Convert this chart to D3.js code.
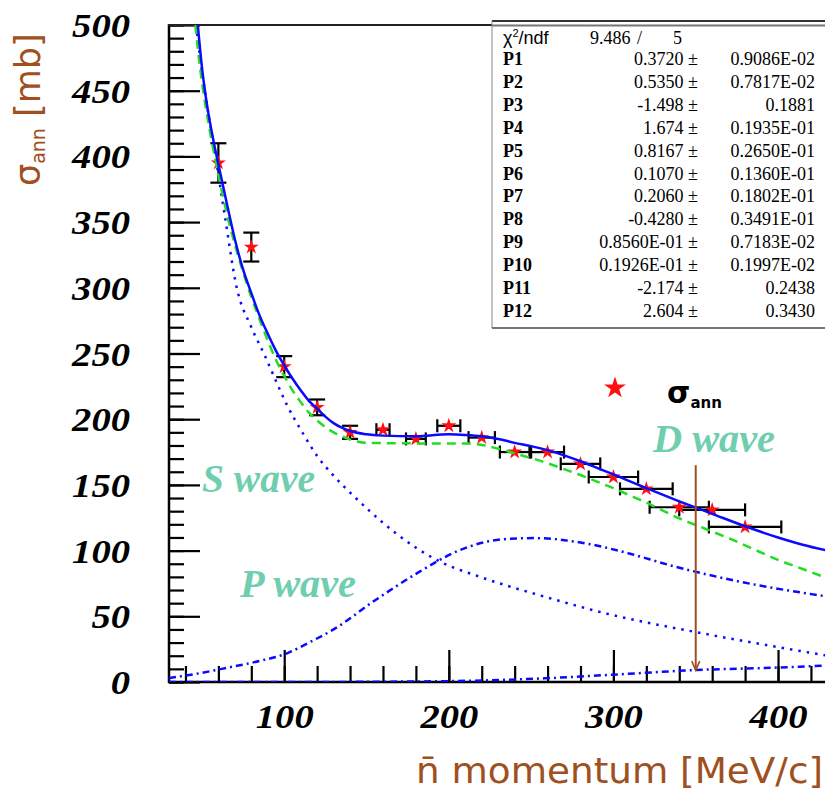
<!DOCTYPE html>
<html><head><meta charset="utf-8">
<script src="https://cdn.jsdelivr.net/npm/d3@7"></script>
<style>body{margin:0;background:#fff}svg{display:block}</style>
</head><body>
<svg id="c" width="825" height="791"></svg>
<script>
// ---- data ----
const momentum = [60,80,100,120,140,160,180,200,220,240,260,280,300,320,340,360,380];
const sigmaAnn = [395,331,240,209,190,192,185,195,186,175,175,166,156,147,133,131,118];
const sigmaErr = [15,11,8,6,5,0,0,0,0,0,0,0,0,0,0,0,0];
const momErr   = [0,0,0,0,0,4,6,7,8,9,10,12,15,16,18,20,22];

const totalFitX = [47.5,50,53,57,60,65,70,75,80,85,90,95,100,105,110,115,120,125,130,135,140,150,160,180,200,210,220,230,240,250,260,270,280,290,300,320,340,360,380,400,415,430];
const totalFitY = [500,468,440,412,394,365,337,314,296,279,265,252,241,231,222,214,208,202,197,193.5,191,188.5,187.5,187,188.5,188,187,185,182,179.5,176.5,172.5,168,163,158,147.5,137.5,128,118.5,110,104.5,100];

const altFitX = [46,49,52,55,58,62,66,70,75,80,85,90,95,100,105,110,115,120,125,130,135,140,150,180,210,220,230,240,250,260,270,280,290,300,310,320,330,340,350,360,370,380,400,415,430];
const altFitY = [500,466,440,418,398,374,352,333,312,293,276,260,245,233,222,213,205,199,194,190,187,184.5,182,181.6,181.6,180.4,177.5,174,170.5,166.5,162,157.5,152.5,147.5,142,136.5,130.5,124.5,119.5,114.5,109.5,104,93,86,79];

const sWaveX = [46.5,50,54,58,64,71,80,88,95,102,111,120,130,141,152,168,194,219,258,296,350,398,430];
const sWaveY = [500,465,432,402,354,301,270,249,229,210,190,172,157,143,130,113,92,80,65,52,38,27,20];

const pWaveX = [30,50,66,85,102,115,130,155,181,206,232,252,283,309,334,372,430];
const pWaveY = [3,7,11,16,22,30,40,62,83,100,108.5,109.5,105.5,98,89,77.6,65];

const dWaveX = [30,100,190,230,258,296,350,400,430];
const dWaveY = [0,0,0.5,1.5,2.8,5.3,9.1,11,12.5];

const yMajor = [0,50,100,150,200,250,300,350,400,450,500];
const xMajor = [100,200,300,400];

const statNames = ["P1","P2","P3","P4","P5","P6","P7","P8","P9","P10","P11","P12"];
const statVals  = ["0.3720","0.5350","-1.498","1.674","0.8167","0.1070","0.2060","-0.4280","0.8560E-01","0.1926E-01","-2.174","2.604"];
const statErrs  = ["0.9086E-02","0.7817E-02","0.1881","0.1935E-01","0.2650E-01","0.1360E-01","0.1802E-01","0.3491E-01","0.7183E-02","0.1997E-02","0.2438","0.3430"];
const chi2 = "9.486", ndf = "5";
const arrowAt = 350, arrowTop = 165, arrowBottom = 9;

// ---- scales ----
const svg = d3.select("#c");
const x = d3.scaleLinear().domain([30,430]).range([169,827.4]);
const y = d3.scaleLinear().domain([0,500]).range([682,25]);

const BLUE = "#0a0aff", GREEN = "#22dd22", BROWN = "#a0501e", TEAL = "#6fceae";

svg.append("defs").append("clipPath").attr("id","clip")
  .append("rect").attr("x",169).attr("y",25).attr("width",660).attr("height",657);

// ---- axes ----
const tickFont = "'Liberation Serif','Times New Roman',serif";
const yMinor = svg.append("g").attr("transform","translate(169,0)")
  .call(d3.axisLeft(y).tickValues(d3.range(0,501,10)).tickSize(-15).tickFormat(""));
const yMaj = svg.append("g").attr("transform","translate(169,0)")
  .call(d3.axisLeft(y).tickValues(yMajor).tickSize(-31).tickPadding(39));
const xMinor = svg.append("g").attr("transform","translate(0,682)")
  .call(d3.axisBottom(x).tickValues(d3.range(40,430,20)).tickSize(-16).tickFormat(""));
const xMaj = svg.append("g").attr("transform","translate(0,682)")
  .call(d3.axisBottom(x).tickValues(xMajor).tickSize(-32).tickPadding(0));
[yMinor,yMaj,xMinor,xMaj].forEach(g=>{
  g.select(".domain").remove();
  g.selectAll("line").attr("stroke","#000").attr("stroke-width",2.2);
});
yMaj.selectAll("text")
  .attr("font-family",tickFont).attr("font-style","italic").attr("font-weight","bold")
  .attr("font-size",34).attr("fill","#000").attr("dy","0.34em")
  .attr("textLength",d=>String(d).length*19.3).attr("lengthAdjust","spacingAndGlyphs");
xMaj.selectAll("text")
  .attr("font-family",tickFont).attr("font-style","italic").attr("font-weight","bold")
  .attr("font-size",34).attr("fill","#000").attr("y",46).attr("dy",0)
  .attr("textLength",d=>String(d).length*19.3).attr("lengthAdjust","spacingAndGlyphs");

// frame
svg.append("line").attr("x1",169).attr("x2",169).attr("y1",24).attr("y2",683).attr("stroke","#000").attr("stroke-width",2.5);
svg.append("line").attr("x1",168).attr("x2",825).attr("y1",682).attr("y2",682).attr("stroke","#000").attr("stroke-width",2.5);
svg.append("line").attr("x1",168).attr("x2",825).attr("y1",25).attr("y2",25).attr("stroke","#222").attr("stroke-width",2);

// ---- curves & points ----
const plot = svg.append("g").attr("clip-path","url(#clip)");
const line = d3.line().x(d=>x(d[0])).y(d=>y(d[1])).curve(d3.curveMonotoneX);
const zip = (a,b)=>a.map((v,i)=>[v,b[i]]);

const pts = zip(momentum,sigmaAnn);
const eb = plot.append("g").attr("stroke","#000").attr("stroke-width",2.2);
pts.forEach((p,i)=>{
  const cx=x(p[0]), cy=y(p[1]);
  if (sigmaErr[i]>0){
    const t=y(p[1]+sigmaErr[i]), b=y(p[1]-sigmaErr[i]);
    eb.append("line").attr("x1",cx).attr("x2",cx).attr("y1",t).attr("y2",b);
    eb.append("line").attr("x1",cx-8).attr("x2",cx+8).attr("y1",t).attr("y2",t);
    eb.append("line").attr("x1",cx-8).attr("x2",cx+8).attr("y1",b).attr("y2",b);
  }
  if (momErr[i]>0){
    const l=x(p[0]-momErr[i]), r=x(p[0]+momErr[i]);
    eb.append("line").attr("x1",l).attr("x2",r).attr("y1",cy).attr("y2",cy);
    eb.append("line").attr("x1",l).attr("x2",l).attr("y1",cy-6.5).attr("y2",cy+6.5);
    eb.append("line").attr("x1",r).attr("x2",r).attr("y1",cy-6.5).attr("y2",cy+6.5);
  }
});
plot.append("g").selectAll("path").data(pts).join("path")
  .attr("d",d3.symbol(d3.symbolStar,70))
  .attr("transform",d=>`translate(${x(d[0])},${y(d[1])})`)
  .attr("fill","#ff1010");

plot.append("path").datum(zip(dWaveX,dWaveY)).attr("d",line)
  .attr("fill","none").attr("stroke",BLUE).attr("stroke-width",2.5).attr("stroke-dasharray","7,4,2,4");
plot.append("path").datum(zip(pWaveX,pWaveY)).attr("d",line)
  .attr("fill","none").attr("stroke",BLUE).attr("stroke-width",2.5).attr("stroke-dasharray","7,4,2,4");
plot.append("path").datum(zip(sWaveX,sWaveY)).attr("d",line)
  .attr("fill","none").attr("stroke",BLUE).attr("stroke-width",2.5).attr("stroke-dasharray","2.5,6");
plot.append("path").datum(zip(altFitX,altFitY)).attr("d",line)
  .attr("fill","none").attr("stroke",GREEN).attr("stroke-width",2.5).attr("stroke-dasharray","9,6");
plot.append("path").datum(zip(totalFitX,totalFitY)).attr("d",line)
  .attr("fill","none").attr("stroke",BLUE).attr("stroke-width",2.5);

// arrow
const ax = x(arrowAt);
svg.append("line").attr("x1",ax).attr("x2",ax).attr("y1",y(arrowTop)).attr("y2",y(arrowBottom))
  .attr("stroke",BROWN).attr("stroke-width",2);
svg.append("path").attr("d",`M${ax-4},${y(arrowBottom)-9}L${ax},${y(arrowBottom)}L${ax+4},${y(arrowBottom)-9}`)
  .attr("fill","none").attr("stroke",BROWN).attr("stroke-width",1.6);

// wave labels
const waveFont = "'Liberation Serif','Times New Roman',serif";
[["S wave",202,492,113],["P wave",240,597,116],["D wave",653,452,122]].forEach(([t,tx,ty,w])=>{
  svg.append("text").attr("x",tx).attr("y",ty).text(t)
    .attr("font-family",waveFont).attr("font-style","italic").attr("font-weight","bold")
    .attr("font-size",40).attr("fill",TEAL)
    .attr("textLength",w).attr("lengthAdjust","spacingAndGlyphs");
});

// legend
svg.append("path").attr("d",d3.symbol(d3.symbolStar,150))
  .attr("transform","translate(615,388)").attr("fill","#ff1010");
const lg = svg.append("text").attr("x",667).attr("y",403)
  .attr("font-family","'DejaVu Sans',sans-serif").attr("font-weight","bold").attr("fill","#000");
lg.append("tspan").attr("font-size",30).text("σ");
lg.append("tspan").attr("font-size",15).attr("dy",5).text("ann");

// axis titles
const yt = svg.append("text").attr("transform","translate(40,186) rotate(-90)")
  .attr("font-family","'DejaVu Sans',sans-serif").attr("fill",BROWN);
yt.append("tspan").attr("font-size",35).text("σ");
yt.append("tspan").attr("font-size",19).attr("dy",5).text("ann");
yt.append("tspan").attr("font-size",35).attr("dy",-5).text(" [mb]");

svg.append("text").attr("x",416).attr("y",783).text("n̄ momentum [MeV/c]")
  .attr("font-family","'DejaVu Sans',sans-serif").attr("font-size",36).attr("fill",BROWN)
  .attr("textLength",407).attr("lengthAdjust","spacingAndGlyphs");

// ---- stats box ----
const sb = svg.append("g");
sb.append("rect").attr("x",492).attr("y",21).attr("width",340).attr("height",307).attr("fill","#fff");
sb.append("line").attr("x1",492).attr("x2",825).attr("y1",21).attr("y2",21).attr("stroke","#333").attr("stroke-width",2);
sb.append("line").attr("x1",492).attr("x2",825).attr("y1",25.5).attr("y2",25.5).attr("stroke","#777").attr("stroke-width",2);
sb.append("line").attr("x1",492).attr("x2",492).attr("y1",21).attr("y2",328).attr("stroke","#888").attr("stroke-width",1);
sb.append("line").attr("x1",492).attr("x2",825).attr("y1",328).attr("y2",328).attr("stroke","#444").attr("stroke-width",1.5);
const sf = "'Liberation Serif','Times New Roman',serif";
const FS = 18;
const ch = sb.append("text").attr("x",503).attr("y",44).attr("font-family","'Liberation Sans',Arial,sans-serif").attr("font-size",FS);
ch.append("tspan").text("χ");
ch.append("tspan").attr("font-size",11).attr("dy",-7).text("2");
ch.append("tspan").attr("dy",7).text("/ndf");
sb.append("text").attr("x",590).attr("y",44).attr("font-family",sf).attr("font-size",FS).text(chi2);
sb.append("text").attr("x",637).attr("y",44).attr("font-family",sf).attr("font-size",FS).text("/");
sb.append("text").attr("x",673).attr("y",44).attr("font-family",sf).attr("font-size",FS).text(ndf);
statNames.forEach((n,i)=>{
  const by = 65 + 22.9*i;
  sb.append("text").attr("x",503).attr("y",by).attr("font-family",sf).attr("font-weight","bold").attr("font-size",FS).text(n);
  sb.append("text").attr("x",698).attr("y",by).attr("text-anchor","end").attr("font-family",sf).attr("font-size",FS).text(statVals[i]+" ±");
  sb.append("text").attr("x",815).attr("y",by).attr("text-anchor","end").attr("font-family",sf).attr("font-size",FS).text(statErrs[i]);
});
</script>
</body></html>
